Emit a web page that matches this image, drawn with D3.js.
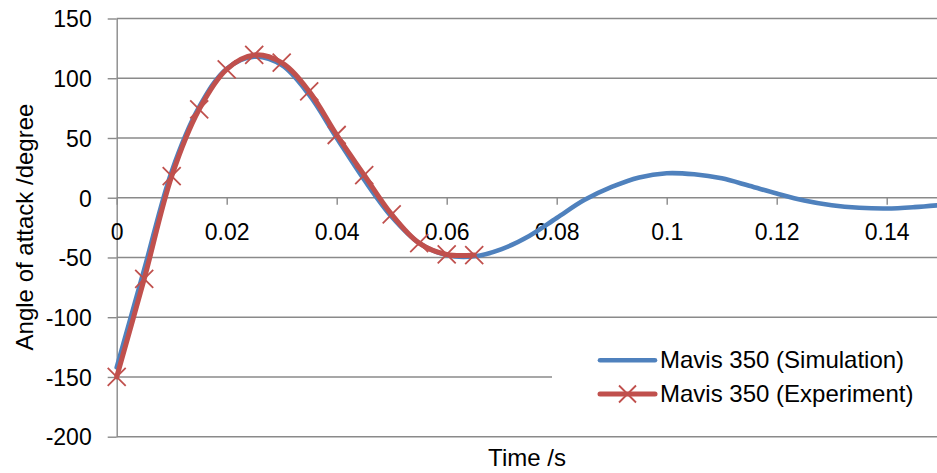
<!DOCTYPE html>
<html>
<head>
<meta charset="utf-8">
<script src="https://cdn.jsdelivr.net/npm/d3@7"></script>
<style>
  html, body { margin: 0; padding: 0; background: #fff; }
  svg { display: block; font-family: "Liberation Sans", Arial, sans-serif; }
</style>
</head>
<body>
<svg id="chart" width="937" height="473"></svg>
<script>
// ---- data ----
const simTime  = [0, 0.005, 0.01, 0.015, 0.02, 0.025, 0.03, 0.035, 0.04, 0.045, 0.05, 0.055, 0.06, 0.065, 0.07, 0.075, 0.08, 0.085, 0.09, 0.095, 0.1, 0.105, 0.11, 0.115, 0.12, 0.125, 0.13, 0.135, 0.14, 0.145, 0.15];
const simAngle = [-142, -60, 22, 76, 108, 118, 111, 86, 50, 15, -16, -38, -48, -49, -43, -32, -17, -2, 9, 17, 20.5, 19.6, 16.2, 10, 3.5, -2.3, -6.3, -8.4, -9, -7.9, -6];
const expTime  = [0, 0.005, 0.01, 0.015, 0.02, 0.025, 0.03, 0.035, 0.04, 0.045, 0.05, 0.055, 0.06, 0.065];
const expAngle = [-150, -68, 18, 74, 107.5, 119.5, 113, 89, 52.5, 19, -14, -38, -47.5, -48];
const xTicks = [0, 0.02, 0.04, 0.06, 0.08, 0.1, 0.12, 0.14];
const yTicks = [-200, -150, -100, -50, 0, 50, 100, 150];
const seriesNames = ["Mavis 350 (Simulation)", "Mavis 350 (Experiment)"];
const colors = ["#4F81BD", "#C0504D"];

// ---- chart ----
const svg = d3.select("#chart");
const x = d3.scaleLinear().domain([0, 0.15]).range([116.7, 941.7]);
const y = d3.scaleLinear().domain([-200, 150]).range([436.7, 18.5]);
const gridColor = "#8a8a8a";

// gridlines
svg.append("g").selectAll("line").data(yTicks).join("line")
  .attr("x1", x(0)).attr("x2", 937)
  .attr("y1", d => y(d)).attr("y2", d => y(d))
  .attr("stroke", gridColor).attr("stroke-width", 1.4);

// y axis
const yAxis = svg.append("g").attr("transform", `translate(${x(0)},0)`)
  .call(d3.axisLeft(y).tickValues(yTicks).tickSize(9).tickSizeOuter(0).tickFormat(d => String(d)));
yAxis.select(".domain").attr("stroke", gridColor).attr("stroke-width", 1.4);
yAxis.selectAll(".tick line").attr("stroke", gridColor).attr("stroke-width", 1.4);
yAxis.selectAll(".tick text").attr("x", -25).attr("dy", "0.36em")
  .attr("font-size", 23).attr("fill", "#000").attr("font-family", "Liberation Sans, Arial, sans-serif");

// x axis at y=0
const xAxis = svg.append("g").attr("transform", `translate(0,${y(0)})`)
  .call(d3.axisBottom(x).tickValues(xTicks).tickSize(7).tickSizeOuter(0).tickFormat(d => String(d)));
xAxis.select(".domain").remove();
xAxis.selectAll(".tick line").attr("stroke", gridColor).attr("stroke-width", 1.4);
xAxis.selectAll(".tick text").attr("y", 42).attr("dy", 0)
  .attr("font-size", 23).attr("fill", "#000").attr("font-family", "Liberation Sans, Arial, sans-serif");

// lines
const line = d3.line().curve(d3.curveCatmullRom.alpha(0.5))
  .x(d => x(d[0])).y(d => y(d[1]));
const simData = simTime.map((t, i) => [t, simAngle[i]]);
const expData = expTime.map((t, i) => [t, expAngle[i]]);

svg.append("path").datum(simData).attr("d", line)
  .attr("fill", "none").attr("stroke", colors[0]).attr("stroke-width", 4.6)
  .attr("stroke-linecap", "round").attr("stroke-linejoin", "round");
svg.append("path").datum(expData).attr("d", line)
  .attr("fill", "none").attr("stroke", colors[1]).attr("stroke-width", 5)
  .attr("stroke-linecap", "round").attr("stroke-linejoin", "round");

const m = 9;
function cross(g, cx, cy) {
  g.append("path")
    .attr("d", `M${cx - m},${cy - m}L${cx + m},${cy + m}M${cx - m},${cy + m}L${cx + m},${cy - m}`)
    .attr("stroke", colors[1]).attr("stroke-width", 1.8).attr("fill", "none");
}
const mk = svg.append("g");
expData.forEach(d => cross(mk, x(d[0]), y(d[1])));

// legend
const lg = svg.append("g");
lg.append("rect").attr("x", 552).attr("y", 330).attr("width", 385).attr("height", 95).attr("fill", "#fff");
const ly = [360.3, 394];
seriesNames.forEach((name, i) => {
  lg.append("line").attr("x1", 600).attr("x2", 655).attr("y1", ly[i]).attr("y2", ly[i])
    .attr("stroke", colors[i]).attr("stroke-width", i === 0 ? 4.6 : 5).attr("stroke-linecap", "round");
  if (i === 1) {
    const mm = 8.5, cx = 627.5, cy = ly[i];
    lg.append("path")
      .attr("d", `M${cx - mm},${cy - mm}L${cx + mm},${cy + mm}M${cx - mm},${cy + mm}L${cx + mm},${cy - mm}`)
      .attr("stroke", colors[1]).attr("stroke-width", 1.8);
  }
  lg.append("text").attr("x", 660).attr("y", ly[i] + 8).text(name)
    .attr("font-size", 24).attr("fill", "#000");
});

// axis titles
svg.append("text").attr("x", 527).attr("y", 466).attr("text-anchor", "middle")
  .attr("font-size", 24).attr("fill", "#000").text("Time /s");
svg.append("text").attr("transform", "translate(33,227) rotate(-90)").attr("text-anchor", "middle")
  .attr("font-size", 24).attr("fill", "#000").text("Angle of attack /degree");
</script>
</body>
</html>
